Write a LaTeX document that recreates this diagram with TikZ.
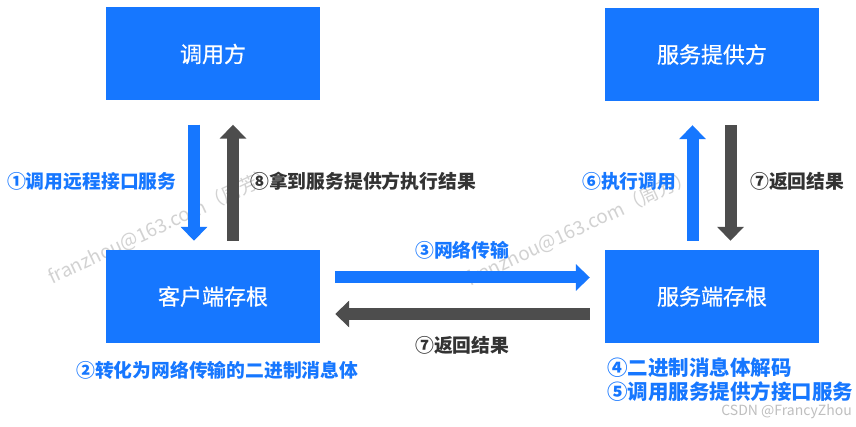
\documentclass[tikz,border=0pt]{standalone}
\usepackage{fontspec}
\setmainfont{Noto Sans CJK SC}
\newfontfamily\boxfont[FakeBold=0.6]{Noto Sans CJK SC}
\usetikzlibrary{arrows.meta}
\definecolor{mainblue}{HTML}{1677FF}
\definecolor{arrowgray}{HTML}{4D4D4D}
\definecolor{textgray}{HTML}{333333}
\definecolor{wmgray}{HTML}{D2D2D2}
\begin{document}
\begin{tikzpicture}[x=1pt,y=-1pt,
  box/.style={fill=mainblue, draw=none, minimum width=214pt, minimum height=93pt, inner sep=0pt,
    text=white, font=\boxfont\fontsize{22}{26}\selectfont},
  blk/.style={line width=12pt, -{Triangle[width=26pt,length=14pt]}},
  vert/.style={shorten <=24pt, shorten >=9pt},
  vertup/.style={shorten <=9pt, shorten >=24pt},
  horiz/.style={shorten <=15pt, shorten >=15pt},
  lbl/.style={inner sep=0pt, font=\bfseries\fontsize{18.8}{22}\selectfont},
  lblbig/.style={inner sep=0pt, font=\bfseries\fontsize{20.5}{24}\selectfont},
  wm/.style={inner sep=0pt, rotate=25, text=wmgray, font=\fontsize{19}{22}\selectfont}]
\useasboundingbox (0,0) rectangle (856,427);
\fill[white] (0,0) rectangle (856,427);

% watermarks
\node[wm] (wm1) at (162,226) {franzhou@163.com（周芳）};
\node[wm] (wm2) at (580,228) {franzhou@163.com（周芳）};

% boxes
\node[box] (caller)   at (213,54)    {调用方};
\node[box] (provider) at (712,54.5)  {服务提供方};
\node[box] (client)   at (213,296.5) {客户端存根};
\node[box] (server)   at (712,296.5) {服务端存根};

% vertical arrows left
\draw[blk, vert, mainblue]    ([xshift=-19pt]caller.south) -- ([xshift=-19pt]client.north);
\draw[blk, vertup, arrowgray] ([xshift=20pt]client.north) -- ([xshift=20pt]caller.south);
% vertical arrows right
\draw[blk, vertup, mainblue]  ([xshift=-19.5pt]server.north) -- ([xshift=-19.5pt]provider.south);
\draw[blk, vert, arrowgray]   ([xshift=18.5pt]provider.south) -- ([xshift=18.5pt]server.north);
% horizontal arrows
\draw[blk, horiz, mainblue]   ([yshift=19pt]client.east) -- ([yshift=19pt]server.west);
\draw[blk, horiz, arrowgray]  ([yshift=-17.5pt]server.west) -- ([yshift=-17.5pt]client.east);

% labels
\node[lbl, text=mainblue, anchor=west]  (l1) at (7,181)   {①调用远程接口服务};
\node[lbl, text=textgray, anchor=west]  (l8) at (250,181) {⑧拿到服务提供方执行结果};
\node[lbl, text=mainblue, anchor=west]  (l6) at (582,181) {⑥执行调用};
\node[lbl, text=textgray, anchor=west]  (l7a) at (750,181) {⑦返回结果};
\node[lbl, text=mainblue, anchor=west]  (l3) at (415,250) {③网络传输};
\node[lbl, text=textgray, anchor=west]  (l7b) at (415,345) {⑦返回结果};
\node[lbl, text=mainblue, anchor=west]  (l2) at (76,370)  {②转化为网络传输的二进制消息体};
\node[lblbig, text=mainblue, anchor=west] (l4) at (607,368) {④二进制消息体解码};
\node[lblbig, text=mainblue, anchor=west] (l5) at (607,392) {⑤调用服务提供方接口服务};
\node[inner sep=0pt, anchor=east, text=black!25, font=\fontsize{14}{16}\selectfont] (csdn) at (852,412) {CSDN @FrancyZhou};
\end{tikzpicture}
\end{document}
